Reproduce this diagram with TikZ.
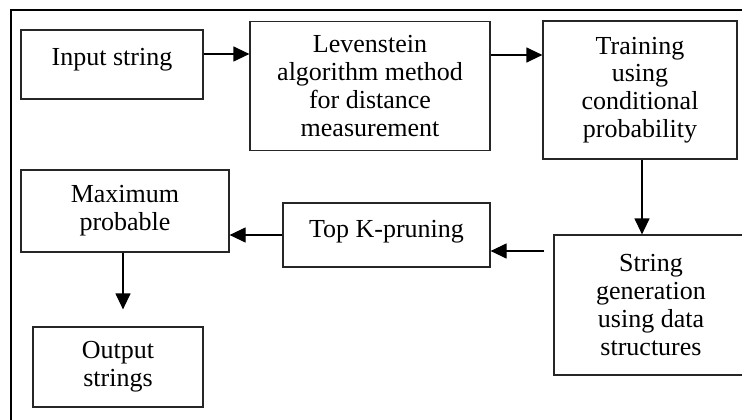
\documentclass[tikz,border=0pt]{standalone}
\usepackage{fontspec}
\setmainfont{Liberation Serif}
\usetikzlibrary{arrows.meta}

\begin{document}
\begin{tikzpicture}[->,>={Triangle[length=16pt,width=15pt]},x=1pt,y=-1pt,line width=1.2pt]
  \tikzstyle{block}=[draw=black!85,rectangle,align=center,inner sep=0pt,font={\fontsize{26}{27.7}\selectfont}]

  \useasboundingbox (0,0) rectangle (742,420);
  \clip (0,0) rectangle (742,420);
  % outer frame, cut off at the right and bottom
  \draw[-, line width=2.6pt] (11,10) rectangle (800,480);

  \node[block, minimum width=182pt, minimum height=69pt, text depth=16pt] (input) at (112,64.5) {Input string};
  \node[block, minimum width=240pt, minimum height=129pt] (lev) at (370,86) {Levenstein\\algorithm method\\for distance\\measurement};
  \node[block, minimum width=194pt, minimum height=138pt] (train) at (640,90) {Training\\using\\conditional\\probability};
  \node[block, minimum width=194pt, minimum height=140pt] (strgen) at (651,305) {String\\generation\\using data\\structures};
  \node[block, minimum width=207pt, minimum height=64pt, text depth=13pt] (topk) at (386.5,235) {Top K-pruning};
  \node[block, minimum width=208pt, minimum height=82pt] (maxp) at (125,211) {Maximum\\probable};
  \node[block, minimum width=170pt, minimum height=80pt] (output) at (118,367) {Output\\strings};

  \draw ([yshift=10.5pt]input.east) -- ([yshift=10.5pt]input.east -| lev.west);
  \draw ([yshift=31pt]lev.east) -- ([yshift=31pt]lev.east -| train.west);
  \draw ([xshift=2pt]train.south) -- ([xshift=2pt]train.south |- strgen.north);
  \draw[shorten <=9pt] ([yshift=-16pt]topk.east -| strgen.west) -- ([yshift=-16pt]topk.east);
  \draw (topk.west) -- (topk.west -| maxp.east);
  \draw[shorten >=17pt] ([xshift=-2pt]maxp.south) -- ([xshift=-2pt]maxp.south |- output.north);
\end{tikzpicture}
\end{document}
